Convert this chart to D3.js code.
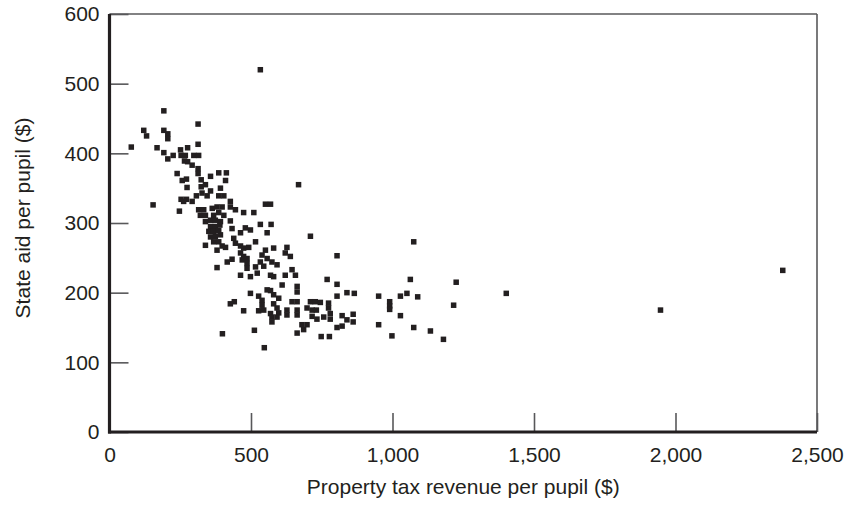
<!DOCTYPE html>
<html>
<head>
<meta charset="utf-8">
<script src="https://cdn.jsdelivr.net/npm/d3@7"></script>
<style>
  html, body { margin: 0; padding: 0; background: #fff; }
  svg { display: block; }
  text { font-family: "Liberation Sans", Arial, Helvetica, sans-serif; fill: #231f20; }
</style>
</head>
<body>
<svg id="chart" width="844" height="511"></svg>
<script>
// Property tax revenue per pupil ($)
const propertyTax = [
  192,313,121,131,192,206,206,313,77,168,192,206,225,251,276,253,268,298,315,265,276,292,313,313,239,357,386,413,410,257,272,274,324,324,339,357,327,345,392,386,404,307,253,272,
  533,668,154,399,
  262,292,247,315,333,363,380,398,427,427,321,339,368,386,404,445,474,510,551,569,
  339,357,374,392,427,357,374,390,433,533,571,480,498,351,368,386,357,374,392,463,
  557,439,445,368,386,398,410,516,339,463,474,492,380,551,580,463,474,486,539,557,
  627,621,639,433,416,533,545,574,592,469,486,380,486,516,522,463,498,569,580,645,
  657,621,
  710,804,769,804,839,804,663,663,610,498,527,539,557,569,580,598,645,663,710,727,
  745,774,441,427,539,580,474,527,545,592,598,627,663,698,716,731,774,780,569,574,
  592,627,663,716,733,757,780,822,839,574,804,822,680,698,686,512,663,748,777,547,
  1075,1063,1225,1402,865,951,990,990,990,1028,1051,1089,1216,861,861,1028,951,1075,1134,998,
  1180,2379,1947
];
// State aid per pupil ($)
const stateAid = [
  461,442,433,425,433,428,421,413,409,408,401,392,397,405,408,397,397,397,397,389,388,383,378,371,371,367,372,372,361,361,363,351,362,352,355,346,343,339,350,339,339,339,334,334,
  520,355,326,141,
  331,331,317,319,319,321,323,323,331,323,311,311,311,315,311,319,315,315,327,327,
  302,304,304,302,303,295,295,297,292,298,298,293,290,288,288,289,280,281,283,286,
  286,278,271,273,273,267,265,273,268,267,264,265,261,261,264,257,252,249,254,249,
  265,257,252,248,244,244,238,244,240,247,242,236,235,237,228,225,223,225,223,233,
  225,225,
  281,253,219,212,200,195,209,201,211,199,195,189,204,203,197,192,187,187,187,187,
  186,185,187,184,182,184,174,174,175,178,171,175,175,178,175,175,178,170,170,165,
  165,168,168,166,162,165,162,167,161,158,150,152,154,154,147,146,142,137,137,121,
  273,219,215,199,199,195,187,181,176,195,199,194,182,169,158,167,154,150,145,138,
  133,232,175
];
const xTicks = [0, 500, 1000, 1500, 2000, 2500];
const yTicks = [0, 100, 200, 300, 400, 500, 600];
const xTitle = "Property tax revenue per pupil ($)";
const yTitle = "State aid per pupil ($)";

const FS = 21;
const svg = d3.select("#chart");
const x = d3.scaleLinear().domain([0, 2500]).range([109.5, 817]);
const y = d3.scaleLinear().domain([0, 600]).range([432, 14]);
const fmt = d3.format(",");

// frame (top and right thin)
svg.append("line").attr("x1", x(0)).attr("x2", x(2500)).attr("y1", y(600)).attr("y2", y(600))
  .attr("stroke", "#58585a").attr("stroke-width", 1.6);
svg.append("line").attr("x1", x(2500)).attr("x2", x(2500)).attr("y1", y(600)).attr("y2", y(0))
  .attr("stroke", "#58585a").attr("stroke-width", 1.6);

// y axis
const yAxis = svg.append("g").attr("transform", `translate(${x(0)},0)`)
  .call(d3.axisLeft(y).tickValues(yTicks).tickSizeInner(-19).tickSizeOuter(0).tickPadding(10).tickFormat(fmt));
yAxis.select(".domain").remove();
yAxis.selectAll(".tick line").attr("stroke", "#58585a").attr("stroke-width", 1.6);
yAxis.selectAll(".tick text").attr("font-size", FS).attr("fill", "#231f20")
  .attr("font-family", "'Liberation Sans', Arial, sans-serif");

// x axis
const xAxis = svg.append("g").attr("transform", `translate(0,${y(0)})`)
  .call(d3.axisBottom(x).tickValues(xTicks).tickSizeInner(-19).tickSizeOuter(0).tickPadding(15).tickFormat(fmt));
xAxis.select(".domain").remove();
xAxis.selectAll(".tick line").attr("stroke", "#58585a").attr("stroke-width", 1.6);
xAxis.selectAll(".tick text").attr("font-size", FS).attr("fill", "#231f20")
  .attr("font-family", "'Liberation Sans', Arial, sans-serif");

// thick main axes
svg.append("line").attr("x1", x(0)).attr("x2", x(0)).attr("y1", y(600)).attr("y2", y(0) + 1.5)
  .attr("stroke", "#231f20").attr("stroke-width", 3.2);
svg.append("line").attr("x1", x(0) - 1.5).attr("x2", x(2500)).attr("y1", y(0)).attr("y2", y(0))
  .attr("stroke", "#231f20").attr("stroke-width", 3.2);

// points
const s = 5.5;
svg.append("g").selectAll("rect").data(propertyTax.map((v, i) => [v, stateAid[i]]))
  .join("rect")
  .attr("x", d => x(d[0]) - s / 2)
  .attr("y", d => y(d[1]) - s / 2)
  .attr("width", s).attr("height", s)
  .attr("fill", "#231f20");

// titles
svg.append("text").attr("x", (x(0) + x(2500)) / 2).attr("y", 494)
  .attr("text-anchor", "middle").attr("font-size", FS).text(xTitle);
svg.append("text").attr("transform", `translate(30,218) rotate(-90)`)
  .attr("text-anchor", "middle").attr("font-size", FS).text(yTitle);
</script>
</body>
</html>
